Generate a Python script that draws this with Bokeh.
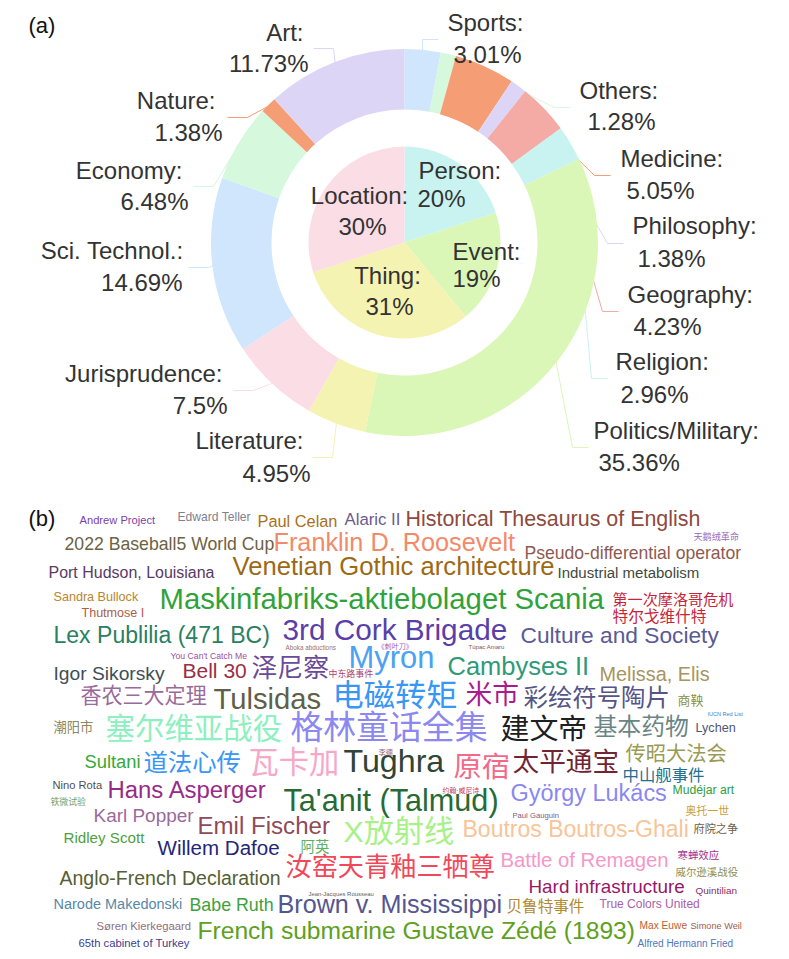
import math
from bokeh.plotting import figure
from bokeh.models import Range1d, ColumnDataSource
from bokeh.core.properties import value
from bokeh.embed import file_html
from bokeh.resources import INLINE

# ---------------- data ----------------
outer_names = ["Sports", "Others", "Medicine", "Philosophy", "Geography", "Religion",
               "Politics/Military", "Literature", "Jurisprudence", "Sci. Technol.",
               "Economy", "Nature", "Art"]
outer_pct = [3.01, 1.28, 5.05, 1.38, 4.23, 2.96, 35.36, 4.95, 7.5, 14.69, 6.48, 1.38, 11.73]

inner_names = ["Person", "Event", "Thing", "Location"]
inner_pct = [20, 19, 31, 30]

wc_words = ["Andrew Project", "Edward Teller", "Paul Celan", "Alaric II", "Historical Thesaurus of English",
            "2022 Baseball5 World Cup", "Franklin D. Roosevelt", "天鹅绒革命", "Pseudo-differential operator",
            "Port Hudson, Louisiana", "Venetian Gothic architecture", "Industrial metabolism",
            "Sandra Bullock", "Thutmose I", "Maskinfabriks-aktiebolaget Scania", "第一次摩洛哥危机", "特尔戈维什特",
            "Lex Publilia (471 BC)", "3rd Cork Brigade", "Culture and Society", "Aboka abductions", "《刺叶刀》",
            "Túpac Amaru", "You Can't Catch Me", "Igor Sikorsky", "Bell 30", "泽尼察", "中东路事件", "Myron",
            "Cambyses II", "Melissa, Elis", "香农三大定理", "Tulsidas", "电磁转矩", "米市", "彩绘符号陶片", "商鞅",
            "IUCN Red List", "潮阳市", "塞尔维亚战役", "格林童话全集", "建文帝", "基本药物", "Lychen",
            "Sultani", "道法心传", "瓦卡加", "Tughra", "李德", "原宿", "太平通宝", "传昭大法会", "中山舰事件",
            "Nino Rota", "铁微试验", "Hans Asperger", "Ta'anit (Talmud)", "约翰·威尼诗", "György Lukács",
            "Mudéjar art", "Paul Gauguin", "奥托一世", "Karl Popper", "Emil Fischer", "X放射线",
            "Boutros Boutros-Ghali", "府院之争", "Ridley Scott", "Willem Dafoe", "阿英", "汝窑天青釉三牺尊",
            "Battle of Remagen", "寒蝉效应", "威尔逊溪战役", "Anglo-French Declaration", "Hard infrastructure",
            "Quintilian", "Jean-Jacques Rousseau", "Narode Makedonski", "Babe Ruth", "Brown v. Mississippi",
            "贝鲁特事件", "True Colors United", "Søren Kierkegaard", "French submarine Gustave Zédé (1893)",
            "Max Euwe", "Simone Weil", "65th cabinet of Turkey", "Alfred Hermann Fried"]

# ---------------- layout / style ----------------
# word cloud placement: left edge x, vertical centre y, ink width (page px)
wc_x = [79, 177, 257, 344, 405, 64, 273, 693, 524, 48, 232, 557, 53, 81, 159, 612, 612,
        53, 282, 520, 285, 377, 468, 170, 53, 182, 251, 328, 348, 447, 599, 80, 213, 332, 465, 523, 677,
        707, 53, 105, 290, 500, 593, 695, 84, 143, 248, 343, 378, 453, 512, 625, 622,
        52, 50, 107, 283, 442, 510, 672, 512, 685, 93, 197, 343, 462, 693, 63, 157, 300, 285,
        500, 677, 675, 59, 528, 695, 308, 53, 189, 277, 506, 599, 96, 197, 639, 690, 78, 637]
wc_y = [520, 517, 521, 520, 520, 544, 543, 537, 553, 573, 567, 573, 597, 613, 600, 600, 617,
        636, 631, 636, 647, 647, 647, 656, 674, 671, 669, 674, 659, 667, 675, 696, 700, 697, 696, 698, 701,
        714, 728, 730, 729, 730, 727, 728, 762, 763, 764, 762, 752, 768, 763, 755, 775,
        785, 802, 790, 801, 790, 794, 790, 815, 811, 816, 826, 833, 830, 829, 838, 848, 847, 868,
        861, 856, 873, 879, 887, 891, 894, 904, 905, 905, 907, 904, 926, 931, 926, 926, 943, 944]
wc_w = [75, 74, 79, 55, 294, 209, 240, 45, 216, 165, 322, 141, 84, 62, 443, 120, 93,
        215, 223, 197, 50, 35, 36, 77, 110, 63, 76, 44, 84, 140, 109, 125, 107, 123, 52, 145, 25,
        35, 39, 175, 195, 85, 94, 40, 55, 96, 89, 100, 14, 55, 105, 100, 81,
        49, 35, 158, 220, 36, 155, 61, 46, 43, 99, 131, 109, 225, 44, 80, 121, 28, 208,
        167, 41, 62, 220, 155, 41, 65, 128, 83, 225, 77, 100, 94, 436, 47, 51, 111, 95]
wc_c = ["#7b3fa8", "#80808f", "#a8701a", "#6b5a8e", "#8e4a3c", "#6d6243", "#f28a6a", "#9a6ab5", "#8e5a50",
        "#5a3a66", "#9c6a14", "#3e4a3e", "#b8862e", "#a8604a", "#2fa33a", "#c8243c", "#c8243c",
        "#2a8060", "#5a3fa8", "#5a5a95", "#9a7070", "#9a60c0", "#905050", "#a050a0", "#404e55", "#9a3045",
        "#6a4a9a", "#b04070", "#4aa2f0", "#2e9a78", "#a89460", "#9a6a9a", "#60604a", "#3896f5", "#a81c8e",
        "#555588", "#8a9040", "#3a80d0", "#8a8a60", "#8ef0c0", "#8c88f0", "#202020", "#6a8585", "#505575",
        "#38a838", "#3896f5", "#f5a8c8", "#304535", "#8a6080", "#f26a88", "#702535", "#9a9a55", "#257090",
        "#505050", "#70a070", "#9a2a88", "#286a35", "#c04060", "#8a88f0", "#30a040", "#806080", "#c8a040",
        "#9a6a9a", "#904a58", "#a8f088", "#f8c498", "#706045", "#50a040", "#25257a", "#60b060", "#f04858",
        "#f598c8", "#a03090", "#8a9050", "#556035", "#981868", "#8a3060", "#606060", "#5888a8", "#40a040",
        "#55558f", "#b08a30", "#a860a8", "#907080", "#5ea020", "#c06030", "#a06050", "#404090", "#5078b8"]

palette = ["#cfe6fc", "#d6f8dc", "#f59d74", "#ddd5f6", "#f4aaa5", "#c8f3f0", "#daf7b8", "#f5f3b2", "#fbdde6"]
inner_colors = [palette[5], palette[6], palette[7], palette[8]]

# outer label layout: anchor x,y ; side ; line1 x,y ; line2 x,y  (page px, y = visual centre)
label_layout = [
    (438, 39, "R", 447, 23, 453, 55),
    (570, 107, "R", 579, 91, 587, 122),
    (610, 175, "R", 620, 159, 626, 191),
    (623, 243, "R", 632, 226, 637, 259),
    (618, 311, "R", 627, 295, 633, 327),
    (607, 378, "R", 615, 362, 620, 395),
    (588, 447, "R", 593, 431, 598, 463),
    (312, 457, "L", 303, 441, 310, 474),
    (233, 390, "L", 222, 374, 227, 406),
    (188, 267, "L", 183, 251, 182, 283),
    (193, 186, "L", 182, 171, 188, 202),
    (227, 117, "L", 215, 101, 222, 133),
    (313, 48, "L", 303, 33, 308, 64),
]
# inner label layout: align, line1 x,y, line2 x,y
inner_layout = [
    ("left", 418, 171, 417, 199),
    ("left", 452, 252, 452, 279),
    ("center", 387, 276, 389, 307),
    ("center", 359, 196, 362, 227),
]

PAGE_H = 959
W, H = 781, 951
CX, CY = 404, 242
R_OUT, R_IN, R_PIE = 193.5, 133, 96
LABEL_FS = 24
FONT = "Liberation Sans"
WC_FONT = "Liberation Sans, Noto Sans CJK SC"
TXT = "#333333"
VOFF = -0.055   # text anchor offset (in em) from the visual centre


def Y(py):
    return PAGE_H - py


p = figure(width=W, height=H, x_range=Range1d(0, W), y_range=Range1d(PAGE_H - H, PAGE_H),
           output_backend="svg", toolbar_location=None, x_axis_type=None, y_axis_type=None,
           min_border=0, outline_line_color=None)
p.background_fill_color = "white"
p.border_fill_color = "white"


def ang(c):
    return math.pi / 2 - 2 * math.pi * c


# ---- leader lines (under the ring) ----
tot = sum(outer_pct)
cum = 0.0
xs, ys, lc = [], [], []
for i, v in enumerate(outer_pct):
    mid = (cum + v / 2) / tot
    a = ang(mid)
    p0 = (CX + (R_OUT - 1) * math.cos(a), CY - (R_OUT - 1) * math.sin(a))
    ax, ay, side = label_layout[i][:3]
    p1 = (ax - 16, ay) if side == "R" else (ax + 20, ay)
    xs.append([p0[0], p1[0], ax])
    ys.append([Y(p0[1]), Y(p1[1]), Y(ay)])
    lc.append(palette[i % len(palette)])
    cum += v
p.multi_line(xs=xs, ys=ys, line_color=lc, line_width=1)

# ---- outer ring ----
cum = 0.0
starts, ends, cols = [], [], []
for i, v in enumerate(outer_pct):
    c0, c1 = cum / tot, (cum + v) / tot
    starts.append(ang(c1))
    ends.append(ang(c0))
    cols.append(palette[i % len(palette)])
    cum += v
ring = ColumnDataSource(dict(s=starts, e=ends, c=cols))
p.annular_wedge(x=CX, y=Y(CY), inner_radius=R_IN, outer_radius=R_OUT, start_angle="s", end_angle="e",
                direction="anticlock", fill_color="c", line_color=None, source=ring)

# ---- inner pie ----
itot = sum(inner_pct)
cum = 0.0
starts, ends = [], []
for v in inner_pct:
    starts.append(ang((cum + v) / itot))
    ends.append(ang(cum / itot))
    cum += v
pie = ColumnDataSource(dict(s=starts, e=ends, c=inner_colors))
p.wedge(x=CX, y=Y(CY), radius=R_PIE, start_angle="s", end_angle="e", direction="anticlock",
        fill_color="c", line_color=None, source=pie)

# ---- outer labels ----
off = VOFF * LABEL_FS
L = dict(x=[], y=[], t=[])
R = dict(x=[], y=[], t=[])
for i, name in enumerate(outer_names):
    ax, ay, side, x1, y1, x2, y2 = label_layout[i]
    ptxt = ("%g" % outer_pct[i]) + "%"
    d = R if side == "R" else L
    d["x"] += [x1, x2]
    d["y"] += [Y(y1 + off), Y(y2 + off)]
    d["t"] += [name + ":", ptxt]
p.text(x="x", y="y", text="t", source=ColumnDataSource(R), text_font=value(FONT),
       text_font_size=f"{LABEL_FS}px", text_color=TXT, text_align="left", text_baseline="alphabetic")
p.text(x="x", y="y", text="t", source=ColumnDataSource(L), text_font=value(FONT),
       text_font_size=f"{LABEL_FS}px", text_color=TXT, text_align="right", text_baseline="alphabetic")

# ---- inner labels ----
for i, name in enumerate(inner_names):
    al, x1, y1, x2, y2 = inner_layout[i]
    src = ColumnDataSource(dict(x=[x1, x2], y=[Y(y1 + off), Y(y2 + off)],
                                t=[name + ":", f"{inner_pct[i]}%"]))
    p.text(x="x", y="y", text="t", source=src, text_font=value(FONT), text_font_size=f"{LABEL_FS}px",
           text_color=TXT, text_align=al, text_baseline="alphabetic")

# ---- panel tags ----
p.text(x=[28, 28], y=[Y(25), Y(518)], text=["(a)", "(b)"], text_font=value(FONT),
       text_font_size="22px", text_color="#111111", text_align="left", text_baseline="alphabetic")

# ---- word cloud ----
AW = {' ': 278, '!': 278, '"': 355, '#': 556, '%': 889, '&': 667, "'": 191, '(': 333, ')': 333,
      ',': 278, '-': 333, '.': 278, '/': 278, ':': 278, ';': 278, '·': 278,
      'A': 667, 'B': 667, 'C': 722, 'D': 722, 'E': 667, 'F': 611, 'G': 778, 'H': 722, 'I': 278,
      'J': 500, 'K': 667, 'L': 556, 'M': 833, 'N': 722, 'O': 778, 'P': 667, 'Q': 778, 'R': 722,
      'S': 667, 'T': 611, 'U': 722, 'V': 667, 'W': 944, 'X': 667, 'Y': 667, 'Z': 611,
      'a': 556, 'b': 556, 'c': 500, 'd': 556, 'e': 556, 'f': 278, 'g': 556, 'h': 556, 'i': 222,
      'j': 222, 'k': 500, 'l': 222, 'm': 833, 'n': 556, 'o': 556, 'p': 556, 'q': 556, 'r': 333,
      's': 500, 't': 278, 'u': 556, 'v': 500, 'w': 722, 'x': 500, 'y': 500, 'z': 500,
      'ø': 611}


def em_width(s):
    w = 0
    for ch in s:
        if ord(ch) >= 0x2E80:
            w += 1000
        elif ch.isdigit():
            w += 556
        else:
            w += AW.get(ch, 556)
    return w / 1000.0 - 0.06


fs, ty = [], []
for wd, cy, ww in zip(wc_words, wc_y, wc_w):
    s = ww / em_width(wd)
    fs.append(f"{s:.2f}px")
    ty.append(Y(cy + VOFF * s))
wc = ColumnDataSource(dict(x=wc_x, y=ty, t=wc_words, fs=fs, c=wc_c))
p.text(x="x", y="y", text="t", source=wc, text_font=value(WC_FONT), text_font_size="fs",
       text_color="c", text_align="left", text_baseline="alphabetic")

open("out.html", "w").write(file_html(p, INLINE))
